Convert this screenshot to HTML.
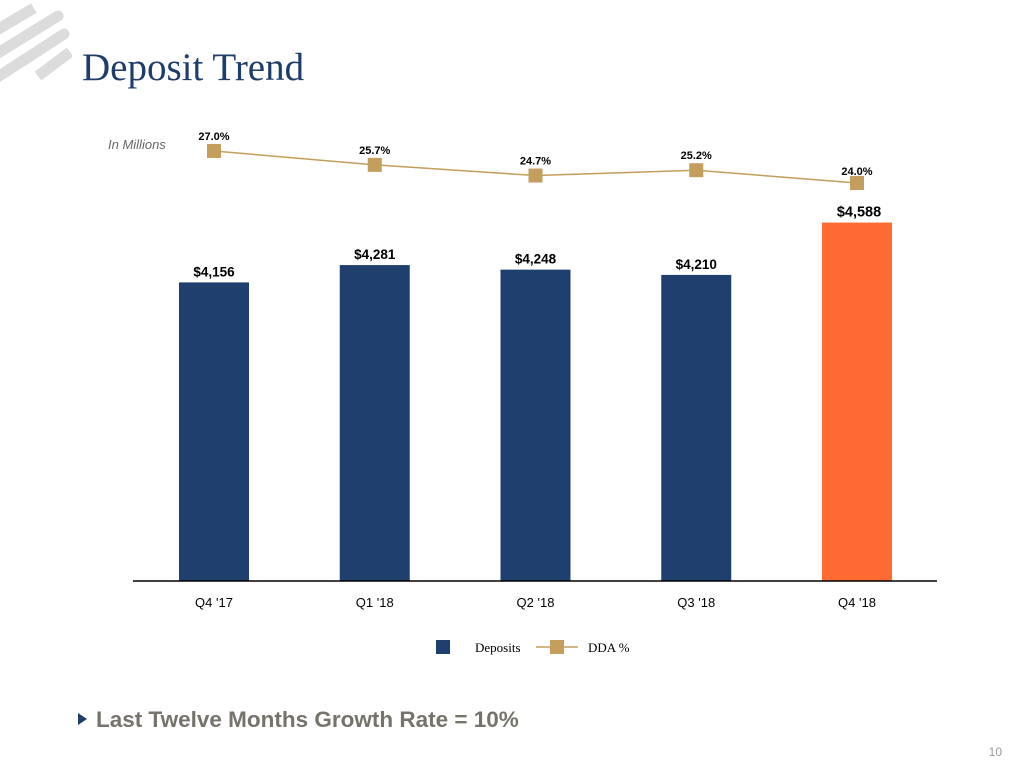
<!DOCTYPE html>
<html><head><meta charset="utf-8"><style>
body{margin:0;width:1024px;height:768px;background:#fff;overflow:hidden;font-family:"Liberation Sans",sans-serif}
</style></head><body>
<svg width="1024" height="768">
<defs><clipPath id="lc"><rect x="0" y="0" width="72" height="85"/></clipPath></defs>
<g stroke="#dcdcdc" stroke-width="11" clip-path="url(#lc)" fill="none">
<line x1="-10" y1="34" x2="34" y2="8"/>
<line x1="-10" y1="58" x2="58" y2="16" stroke-linecap="round"/>
<line x1="-10" y1="82" x2="64" y2="34" stroke-linecap="round"/>
<line x1="38" y1="76" x2="70" y2="52"/>
</g>
<text x="82" y="80" font-family="Liberation Serif" font-size="39" fill="#1f3d6b">Deposit Trend</text>
<text x="108" y="149" font-size="13" font-style="italic" fill="#666">In Millions</text>
<g id="chart"></g>
<line x1="133" y1="581" x2="937" y2="581" stroke="#000" stroke-width="1.5"/>
<g>
<rect x="436" y="640" width="14" height="14" fill="#1f3f6e"/>
<text x="475" y="652" font-family="Liberation Serif" font-size="13" fill="#000">Deposits</text>
<line x1="536" y1="647" x2="578" y2="647" stroke="#c39e5c" stroke-width="1.5"/>
<rect x="550" y="640" width="14" height="14" fill="#c39e5c"/>
<text x="588" y="652" font-family="Liberation Serif" font-size="13" fill="#000">DDA %</text>
</g>
<polygon points="78,713 78,725 87,719" fill="#1f3d6b"/>
<text x="96" y="727" font-size="22.5" font-weight="bold" fill="#76736b">Last Twelve Months Growth Rate = 10%</text>
<text x="1002" y="756" font-size="12" fill="#999" text-anchor="end">10</text>
</svg>
<script>
const categories=["Q4 '17","Q1 '18","Q2 '18","Q3 '18","Q4 '18"];
const deposits=[4156,4281,4248,4210,4588];
const depositLabels=["$4,156","$4,281","$4,248","$4,210","$4,588"];
const ddaPct=[27.0,25.7,24.7,25.2,24.0];
const ddaLabels=["27.0%","25.7%","24.7%","25.2%","24.0%"];
const NS="http://www.w3.org/2000/svg";
const g=document.getElementById('chart');
const xC=i=>214+i*160.75;
const yB=v=>581-(v-2000)*0.1385;
const yL=v=>151+(27-v)*10.67;
function mk(t,a){const e=document.createElementNS(NS,t);for(const k in a)e.setAttribute(k,a[k]);g.appendChild(e);return e;}
categories.forEach((c,i)=>{
 const r=mk('rect',{x:xC(i)-35,y:yB(deposits[i]),width:70,height:581-yB(deposits[i]),fill:i===4?'#ff6a33':'#1f3f6e'});
 
 
 const t=mk('text',{x:xC(i)+(i===4?2:0),y:yB(deposits[i])-6,'font-size':i===4?14.5:13.5,'font-weight':'bold','text-anchor':'middle'});
 t.textContent=depositLabels[i];
 
 
 const ct=mk('text',{x:xC(i),y:607,'font-size':13,'text-anchor':'middle'});
 ct.textContent=c;
 
 
});
const pl=mk('polyline',{points:ddaPct.map((v,i)=>xC(i)+','+yL(v)).join(' '),fill:'none',stroke:'#c39e5c','stroke-width':1.5});


ddaPct.forEach((v,i)=>{
 const m=mk('rect',{x:xC(i)-7,y:yL(v)-7,width:14,height:14,fill:'#c39e5c'});
 
 
 const t=mk('text',{x:xC(i),y:yL(v)-11+(i===4?3:0),'font-size':11,'font-weight':'bold','text-anchor':'middle'});
 t.textContent=ddaLabels[i];
 
 
});
</script>
</body></html>
